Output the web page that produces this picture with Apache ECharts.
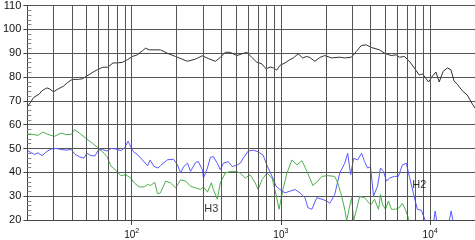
<!DOCTYPE html>
<html>
<head>
<meta charset="utf-8">
<script src="https://cdn.jsdelivr.net/npm/echarts@6/dist/echarts.min.js"></script>
<style>
  html, body { margin: 0; padding: 0; background: #fff; }
  #chart { width: 475px; height: 240px; }
</style>
</head>
<body>
<div id="chart"></div>
<script>
// fundamental response (Hz, dB)
const mainFreq = [20, 21, 22, 24, 25, 27, 28, 30, 32, 35, 37, 40, 44, 47, 50, 55, 59, 64, 69, 75, 80, 87, 94, 101, 109, 118, 124, 131, 156, 173, 197, 236, 268, 297, 328, 364, 393, 424, 458, 508, 548, 592, 639, 690, 745, 796, 847, 891, 938, 987, 1066, 1151, 1211, 1307, 1399, 1487, 1564, 1689, 1824, 1969, 2183, 2480, 2677, 2968, 3204, 3459, 3735, 4034, 4581, 4947, 5483, 5920, 6228, 6725, 7261, 7839, 8465, 8905, 9766, 10380, 10940, 11510, 12240, 13070, 13770, 14490, 15240, 16460, 17770, 19190, 20000];
const mainDb = [67.6, 69.3, 71.4, 72.8, 74.2, 75.4, 75.1, 73.8, 74.9, 76.2, 77.6, 79.0, 79.0, 79.3, 80.4, 82.0, 83.1, 84.1, 84.1, 85.9, 85.9, 86.2, 87.3, 88.6, 89.3, 91.0, 92.1, 91.4, 91.4, 90.0, 88.6, 86.6, 87.5, 88.9, 87.7, 86.6, 88.2, 90.4, 90.3, 89.0, 89.7, 90.4, 88.2, 86.2, 85.5, 83.4, 84.2, 83.8, 82.9, 84.9, 85.9, 87.3, 88.0, 89.7, 88.0, 88.6, 88.2, 86.6, 88.2, 89.0, 88.0, 88.3, 88.0, 88.3, 90.7, 93.2, 93.5, 92.4, 91.4, 90.0, 89.0, 89.3, 88.3, 88.6, 86.6, 83.8, 80.8, 81.3, 77.9, 80.4, 82.1, 77.9, 82.4, 83.8, 83.1, 78.3, 76.9, 74.2, 72.4, 68.7, 67.0];

// 2nd harmonic (blue)
const h2Freq = [20, 21.3, 22.4, 23.6, 25.1, 26.8, 28.9, 31.2, 33.7, 36.4, 39.3, 41.8, 44.6, 47.8, 50.2, 53.4, 56.8, 59.7, 63.9, 68.3, 72.6, 78.4, 84.7, 90, 94.7, 98.7, 103, 109, 118, 128, 133, 141, 150, 156, 174, 191, 203, 213, 223, 237, 248, 268, 280, 298, 303, 322, 337, 353, 375, 393, 411, 444, 472, 510, 534, 559, 604, 652, 704, 760, 821, 873, 928, 987, 1066, 1151, 1243, 1342, 1449, 1517, 1614, 1742, 1880, 2031, 2127, 2296, 2480, 2677, 2804, 2936, 3074, 3268, 3475, 3639, 3811, 3990, 4178, 4443, 4653, 4872, 5101, 5342, 5768, 6133, 6521, 6935, 7261, 7721, 8210, 8730, 9141, 9427, 9860, 10335, 10820, 11330, 13010, 13840, 14720];
const h2Db = [49.1, 48.2, 47.5, 48.2, 47.0, 48.6, 49.8, 50.0, 49.6, 49.3, 49.6, 47.5, 46.6, 45.9, 48.0, 47.0, 46.9, 49.3, 49.6, 48.9, 50.0, 49.8, 49.1, 50.4, 53.1, 50.7, 48.6, 47.5, 45.2, 42.7, 45.2, 42.5, 41.8, 42.8, 45.3, 45.5, 43.1, 39.7, 42.4, 43.8, 40.4, 44.1, 44.5, 41.0, 37.6, 41.8, 46.3, 46.6, 43.8, 41.1, 43.8, 44.5, 42.4, 43.1, 43.8, 45.9, 48.9, 49.3, 48.6, 47.2, 41.8, 38.3, 34.2, 32.8, 31.4, 32.1, 32.8, 31.4, 29.4, 25.2, 24.5, 29.4, 28.7, 28.0, 27.0, 30.7, 39.7, 43.8, 48.0, 39.0, 45.9, 45.2, 48.0, 44.5, 41.8, 42.4, 30.0, 34.2, 41.8, 40.4, 36.3, 37.6, 38.3, 38.3, 43.1, 43.8, 38.3, 31.4, 24.5, 24.1, 21.0, 18.3, 14, 15, 23.8, 15, 15, 23.8, 15];

// 3rd harmonic (green)
const h3Freq = [20, 21.8, 23.6, 25.4, 27.5, 30.4, 33.7, 36.4, 39.3, 41.3, 44.6, 49.5, 54.8, 59.2, 63.9, 68.3, 72.6, 78.4, 84.7, 91.4, 98.7, 104, 112, 121, 128, 134, 143, 149, 156, 169, 182, 197, 213, 230, 248, 268, 289, 303, 322, 342, 353, 375, 393, 424, 458, 502, 534, 577, 623, 673, 704, 749, 808, 873, 928, 972, 1033, 1099, 1187, 1281, 1384, 1494, 1638, 1769, 1880, 2062, 2296, 2404, 2557, 2677, 2761, 2891, 2982, 3074, 3219, 3371, 3639, 3870, 4052, 4242, 4512, 4653, 4797, 5023, 5260, 5508, 5857, 6228, 6521, 6828, 7261, 8000];
const h3Db = [56.2, 55.9, 55.5, 56.9, 55.9, 55.1, 56.5, 55.8, 55.9, 57.9, 56.5, 54.2, 52.1, 50.4, 48.6, 46.6, 42.7, 40.8, 38.6, 39.0, 37.6, 35.6, 33.9, 33.9, 34.9, 34.5, 35.8, 31.0, 31.4, 36.3, 35.6, 33.5, 36.9, 36.3, 34.2, 33.5, 32.8, 33.9, 31.7, 35.6, 32.8, 28.7, 35.6, 39.7, 40.4, 40.4, 39.7, 37.6, 39.0, 35.6, 32.8, 37.0, 39.7, 37.6, 30.7, 24.5, 32.8, 39.7, 45.2, 43.1, 44.9, 40.5, 34.5, 36.3, 38.3, 38.6, 38.3, 35.6, 30.0, 24.5, 19.7, 25.9, 29.4, 19.7, 24.5, 29.8, 29.4, 27.3, 26.6, 28.7, 24.5, 30.7, 26.6, 24.5, 28.0, 24.5, 24.5, 25.2, 27.0, 24.5, 19.7, 14];

// annotations
const noteNames = ['H3', 'H2'];
const noteFreq = [342, 8465];
const noteDb = [24.5, 34.5];

// axis ticks / grid
const decadeTicks = [100, 1000, 10000];
const gridFreqs = [30, 40, 50, 60, 70, 80, 90, 100, 200, 300, 400, 500, 600, 700, 800, 900, 1000, 2000, 3000, 4000, 5000, 6000, 7000, 8000, 9000, 10000];

function zip(xs, ys) {
  return xs.map((x, i) => [x, ys[i]]);
}

const chart = echarts.init(document.getElementById('chart'), null, { renderer: 'canvas' });

const font = '"Liberation Sans", Arial, sans-serif';

const option = {
  animation: false,
  backgroundColor: '#fff',
  grid: { left: 26, top: 3, right: 0, bottom: 19, containLabel: false },
  xAxis: {
    type: 'log',
    logBase: 10,
    min: 20,
    max: 20000,
    axisLine: { show: true, lineStyle: { color: '#444', width: 1 } },
    axisTick: { show: true, customValues: decadeTicks, length: 5, lineStyle: { color: '#444' } },
    axisLabel: {
      customValues: decadeTicks,
      margin: 8,
      formatter: function (v) {
        return '{n|10}{s|' + Math.round(Math.log10(v)) + '}';
      },
      rich: {
        n: { fontFamily: font, fontSize: 10, color: '#111', verticalAlign: 'bottom', lineHeight: 12 },
        s: { fontFamily: font, fontSize: 7, color: '#111', verticalAlign: 'top', lineHeight: 8 }
      }
    },
    splitLine: { show: false }
  },
  yAxis: [
    {
      type: 'value',
      min: 20,
      max: 110,
      interval: 10,
      axisLine: { show: true, lineStyle: { color: '#444', width: 1 } },
      axisTick: { show: true, length: 4, lineStyle: { color: '#444' } },
      axisLabel: { fontFamily: font, fontSize: 11, color: '#111', margin: 6 },
      splitLine: { show: true, lineStyle: { color: '#555', width: 1 } }
    },
    {
      // inward minor ticks only
      type: 'value',
      min: 20,
      max: 110,
      interval: 10,
      position: 'left',
      axisLine: { show: false },
      axisTick: { show: false, inside: true },
      axisLabel: { show: false },
      splitLine: { show: false },
      minorTick: { show: true, splitNumber: 5, length: 4, lineStyle: { color: '#888' } }
    }
  ],
  series: [
    {
      name: 'grid',
      type: 'line',
      data: [],
      silent: true,
      markLine: {
        silent: true,
        symbol: 'none',
        label: { show: false },
        lineStyle: { color: '#555', width: 1, type: 'solid', opacity: 1 },
        emphasis: { disabled: true },
        data: gridFreqs.map(f => ({ xAxis: f }))
      }
    },
    {
      name: 'H3',
      type: 'line',
      data: zip(h3Freq, h3Db),
      showSymbol: false,
      lineStyle: { color: '#4cb04c', width: 1 },
      itemStyle: { color: '#4cb04c' }
    },
    {
      name: 'H2',
      type: 'line',
      data: zip(h2Freq, h2Db),
      showSymbol: false,
      lineStyle: { color: '#5a5aff', width: 1 },
      itemStyle: { color: '#5a5aff' }
    },
    {
      name: 'SPL',
      type: 'line',
      data: zip(mainFreq, mainDb),
      showSymbol: false,
      lineStyle: { color: '#333', width: 1 },
      itemStyle: { color: '#333' }
    },
    {
      name: 'notes',
      type: 'scatter',
      symbolSize: 1,
      z: 10,
      itemStyle: { color: 'rgba(0,0,0,0)' },
      label: {
        show: true,
        position: 'inside',
        formatter: '{b}',
        fontFamily: font,
        fontSize: 11,
        color: '#000',
        textBorderWidth: 0
      },
      data: noteNames.map((n, i) => ({ name: n, value: [noteFreq[i], noteDb[i]] }))
    }
  ]
};

chart.setOption(option);
</script>
</body>
</html>
